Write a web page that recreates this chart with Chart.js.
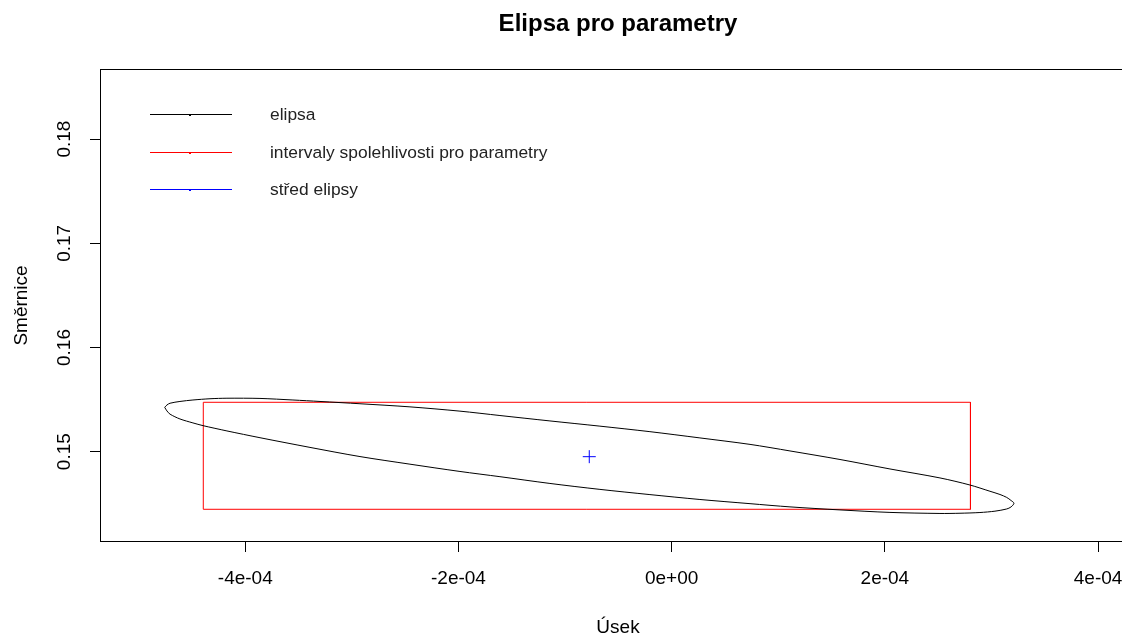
<!DOCTYPE html>
<html>
<head>
<meta charset="utf-8">
<script src="https://cdn.jsdelivr.net/npm/chart.js@4.4.1/dist/chart.umd.min.js"></script>
<style>
  html, body { margin: 0; padding: 0; overflow: hidden; background: #fff; }
  canvas { display: block; }
</style>
</head>
<body>
<canvas id="chart" width="1136" height="634"></canvas>
<script>
// obrys elipsy (x = úsek, y = směrnice), horní hrana zleva doprava, pak spodní zpět
const ellipseX = [-4.756e-4, -4.735e-4, -4.706e-4, -4.613e-4, -4.491e-4, -4.331e-4, -4.172e-4, -3.862e-4, -3.553e-4, -3.299e-4,
                  -2.924e-4, -2.455e-4, -1.986e-4, -1.611e-4, -1.142e-4, -0.673e-4, -0.204e-4, 0.265e-4, 0.735e-4, 1.110e-4,
                  1.579e-4, 2.048e-4, 2.517e-4, 2.798e-4, 2.986e-4, 3.080e-4, 3.143e-4, 3.183e-4, 3.211e-4,
                  3.183e-4, 3.143e-4, 3.033e-4, 2.892e-4, 2.705e-4, 2.517e-4, 2.048e-4, 1.579e-4, 1.110e-4, 0.735e-4,
                  0.265e-4, -0.204e-4, -0.673e-4, -1.142e-4, -1.611e-4, -1.986e-4, -2.455e-4, -2.924e-4, -3.393e-4, -3.862e-4,
                  -4.172e-4, -4.397e-4, -4.491e-4, -4.613e-4, -4.706e-4, -4.735e-4, -4.756e-4];
const ellipseY = [0.15426, 0.15448, 0.15465, 0.15482, 0.15496, 0.15508, 0.15513, 0.15511, 0.15496, 0.15482,
                  0.15460, 0.15430, 0.15389, 0.15347, 0.15295, 0.15245, 0.15192, 0.15132, 0.15070, 0.15007,
                  0.14925, 0.14834, 0.14748, 0.14680, 0.14620, 0.14589, 0.14561, 0.14532, 0.14505,
                  0.14469, 0.14450, 0.14429, 0.14416, 0.14409, 0.14407, 0.14417, 0.14441, 0.14470, 0.14501,
                  0.14541, 0.14588, 0.14638, 0.14695, 0.14760, 0.14810, 0.14880, 0.14953, 0.15041, 0.15134,
                  0.15199, 0.15250, 0.15276, 0.15314, 0.15360, 0.15391, 0.15426];

// intervaly spolehlivosti (obdélník)
const rectX = [-4.394e-4, 2.803e-4, 2.803e-4, -4.394e-4, -4.394e-4];
const rectY = [0.15474, 0.15474, 0.14447, 0.14447, 0.15474];

// střed elipsy
const centerX = [-0.773e-4];
const centerY = [0.14952];

const xTicks = [-4e-4, -2e-4, 0, 2e-4, 4e-4];
const xTickLabels = ['-4e-04', '-2e-04', '0e+00', '2e-04', '4e-04'];
const yTicks = [0.15, 0.16, 0.17, 0.18];
const yTickLabels = ['0.15', '0.16', '0.17', '0.18'];

const xMin = -5.363e-4, xMax = 4.356e-4;
const yMin = 0.14133, yMax = 0.18673;

const FONT = '"Liberation Sans", Arial, sans-serif';

function toPoints(xs, ys) {
    return xs.map((x, i) => ({ x: x, y: ys[i] }));
}

// rámeček kolem plochy grafu jako v R
const boxPlugin = {
    id: 'box',
    afterDraw(c) {
        const a = c.chartArea;
        const ctx = c.ctx;
        ctx.save();
        ctx.strokeStyle = '#000';
        ctx.lineWidth = 1;
        ctx.strokeRect(a.left + 0.5, a.top + 0.5, a.right - a.left - 1, a.bottom - a.top - 1);
        ctx.restore();
    }
};

// legenda uvnitř grafu (čára s tečkou + text)
const legendPlugin = {
    id: 'rLegend',
    afterDraw(c) {
        const a = c.chartArea;
        const ctx = c.ctx;
        ctx.save();
        ctx.font = '17.4px ' + FONT;
        ctx.textBaseline = 'middle';
        c.data.datasets.forEach((ds, i) => {
            const y = Math.round(a.top + 45 + i * 37.5) + 0.5;
            ctx.strokeStyle = ds.borderColor;
            ctx.lineWidth = 1.2;
            ctx.beginPath();
            ctx.moveTo(a.left + 50, y);
            ctx.lineTo(a.left + 132, y);
            ctx.stroke();
            ctx.fillStyle = ds.borderColor;
            ctx.fillRect(a.left + 89, y - 0.5, 2, 2);
            ctx.fillStyle = '#222';
            ctx.fillText(ds.label, a.left + 170, y + 1);
        });
        ctx.restore();
    }
};

const ctx = document.getElementById('chart').getContext('2d');
const chart = new Chart(ctx, {
    type: 'scatter',
    data: {
        datasets: [{
            label: 'elipsa',
            data: toPoints(ellipseX, ellipseY),
            showLine: true,
            borderColor: '#000000',
            borderWidth: 1,
            pointRadius: 0,
            tension: 0.3
        }, {
            label: 'intervaly spolehlivosti pro parametry',
            data: toPoints(rectX, rectY),
            showLine: true,
            borderColor: '#ff0000',
            borderWidth: 1,
            pointRadius: 0,
            tension: 0
        }, {
            label: 'střed elipsy',
            data: toPoints(centerX, centerY),
            showLine: false,
            borderColor: '#0000ff',
            backgroundColor: '#0000ff',
            borderWidth: 1,
            pointStyle: 'cross',
            pointRadius: 6.5
        }]
    },
    options: {
        responsive: false,
        animation: false,
        devicePixelRatio: 1,
        layout: { padding: 0, autoPadding: false },
        plugins: {
            legend: { display: false },
            tooltip: { enabled: false },
            title: {
                display: true,
                text: 'Elipsa pro parametry',
                fullSize: false,
                color: '#000',
                font: { family: FONT, size: 24, weight: 'bold', lineHeight: 1.2 },
                padding: { top: 9.6, bottom: 30.6 }
            }
        },
        scales: {
            x: {
                type: 'linear',
                min: xMin,
                max: xMax,
                afterBuildTicks: s => { s.ticks = xTicks.map(v => ({ value: v })); },
                afterFit: s => { s.height = 92; s.paddingLeft = 0; s.paddingRight = 0; },
                grid: { display: true, drawOnChartArea: false, drawTicks: true, tickLength: 10, color: '#000', lineWidth: 1 },
                border: { display: false },
                ticks: {
                    color: '#000',
                    padding: 15,
                    maxRotation: 0,
                    font: { family: FONT, size: 19 },
                    callback: (v, i) => xTickLabels[i]
                },
                title: {
                    display: true,
                    text: 'Úsek',
                    color: '#000',
                    font: { family: FONT, size: 19, lineHeight: 0.68 },
                    padding: { top: 0, bottom: 0 }
                }
            },
            y: {
                type: 'linear',
                min: yMin,
                max: yMax,
                afterBuildTicks: s => { s.ticks = yTicks.map(v => ({ value: v })); },
                afterFit: s => { s.width = 100; },
                grid: { display: true, drawOnChartArea: false, drawTicks: true, tickLength: 10, color: '#000', lineWidth: 1 },
                border: { display: false },
                ticks: {
                    color: '#000',
                    padding: 7,
                    minRotation: 90,
                    maxRotation: 90,
                    crossAlign: 'center',
                    font: { family: FONT, size: 19 },
                    callback: (v, i) => yTickLabels[i]
                },
                title: {
                    display: true,
                    text: 'Směrnice',
                    color: '#000',
                    font: { family: FONT, size: 19, lineHeight: 1.2 },
                    padding: { top: 10.6, bottom: 0 }
                }
            }
        }
    },
    plugins: [boxPlugin, legendPlugin]
});
</script>
</body>
</html>
